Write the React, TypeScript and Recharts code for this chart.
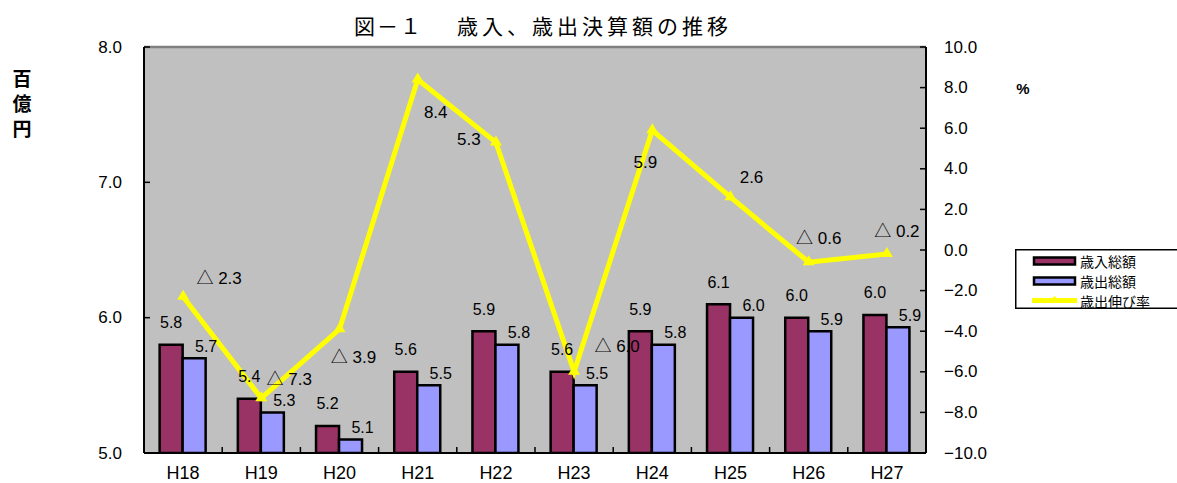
import React from 'react';
import {
  ComposedChart,
  Bar,
  Line,
  XAxis,
  YAxis,
  CartesianGrid,
  ReferenceLine,
  Legend,
} from 'recharts';

// 年度
const categories = ['H18', 'H19', 'H20', 'H21', 'H22', 'H23', 'H24', 'H25', 'H26', 'H27'];
// 歳入総額（百億円）
const revenue = [5.8, 5.4, 5.2, 5.6, 5.9, 5.6, 5.9, 6.1, 6.0, 6.02];
// 歳出総額（百億円）
const expenditure = [5.7, 5.3, 5.1, 5.5, 5.8, 5.5, 5.8, 6.0, 5.9, 5.93];
// 歳出伸び率（％）
const expenditureGrowth = [-2.3, -7.3, -3.9, 8.4, 5.3, -6.0, 5.9, 2.6, -0.6, -0.2];

const leftTicks = [5, 6, 7, 8];
const rightTicks = [-10, -8, -6, -4, -2, 0, 2, 4, 6, 8, 10];

// label placement for the growth-rate line, relative to each point
const rateLabelOffsets: [number, number][] = [
  [36, -18], [28, -19], [14, 28], [18, 33], [-27, -3],
  [43, -25], [-7, 32], [21, -20], [10, -24], [10, -23],
];

const data = categories.map((name, i) => ({
  name,
  revenue: revenue[i],
  expenditure: expenditure[i],
  growth: expenditureGrowth[i],
}));

const WIDTH = 1177;
const HEIGHT = 483;
const LEFT_AXIS_W = 144;
const RIGHT_AXIS_W = 251;
const PLOT_W = WIDTH - LEFT_AXIS_W - RIGHT_AXIS_W;
const BAND = PLOT_W / categories.length;

const NUM_FONT = "'Liberation Sans', Arial, 'Noto Sans CJK JP', sans-serif";
const JP_FONT = "'Noto Sans CJK JP', sans-serif";

const REVENUE_COLOR = '#993366';
const EXPENDITURE_COLOR = '#9999FF';
const LINE_COLOR = '#FFFF00';

const fmt1 = (v: number) => v.toFixed(1);
const fmtRate = (v: number) => (v < 0 ? `△ ${Math.abs(v).toFixed(1)}` : v.toFixed(1));
const fmtAxis = (v: number) => (v < 0 ? `−${Math.abs(v).toFixed(1)}` : v.toFixed(1));

const LEFT_MARGIN = 22;
const RIGHT_MARGIN = 18;

const LeftTick = (props: any) => {
  const { x, y, payload } = props;
  const ax = x + LEFT_MARGIN;
  return (
    <g>
      <line x1={ax} x2={ax + 6} y1={y} y2={y} stroke="#000" strokeWidth={1.5} />
      <text x={x} y={y} textAnchor="end" dominantBaseline="central" fontSize={17} fontFamily={NUM_FONT} fill="#000">
        {fmtAxis(payload.value)}
      </text>
    </g>
  );
};

const RightTick = (props: any) => {
  const { x, y, payload } = props;
  const ax = x - RIGHT_MARGIN;
  return (
    <g>
      <line x1={ax} x2={ax - 6} y1={y} y2={y} stroke="#000" strokeWidth={1.5} />
      <text x={x} y={y} textAnchor="start" dominantBaseline="central" fontSize={17} fontFamily={NUM_FONT} fill="#000">
        {fmtAxis(payload.value)}
      </text>
    </g>
  );
};

const XTick = (props: any) => {
  const { x, y, payload, index } = props;
  const bx = x + BAND / 2;
  return (
    <g>
      {index < categories.length - 1 && (
        <line x1={bx} x2={bx} y1={y} y2={y - 6} stroke="#000" strokeWidth={1.5} />
      )}
      <text x={x} y={y + 26} textAnchor="middle" fontSize={18} fontFamily={NUM_FONT} fill="#000">
        {payload.value}
      </text>
    </g>
  );
};

const RevenueLabel = (props: any) => {
  const { x, y, width, value } = props;
  return (
    <text x={x + width / 2} y={y - 22} textAnchor="middle" dominantBaseline="central" fontSize={16} fontFamily={NUM_FONT} fill="#000">
      {fmt1(value)}
    </text>
  );
};

const ExpenditureLabel = (props: any) => {
  const { x, y, width, value } = props;
  return (
    <text x={x + width / 2 + 12} y={y - 12} textAnchor="middle" dominantBaseline="central" fontSize={16} fontFamily={NUM_FONT} fill="#000">
      {fmt1(value)}
    </text>
  );
};

const RateLabel = (props: any) => {
  const { x, y, value, index } = props;
  const [dx, dy] = rateLabelOffsets[index] || [0, -15];
  return (
    <text x={x + dx} y={y + dy} textAnchor="middle" dominantBaseline="central" fontSize={17} fontFamily={NUM_FONT} fill="#000">
      {fmtRate(value)}
    </text>
  );
};

const TriangleDot = (props: any) => {
  const { cx, cy } = props;
  if (cx == null || cy == null) return null;
  return (
    <path d={`M${cx},${cy - 7} L${cx + 6},${cy + 3} L${cx - 6},${cy + 3} Z`} fill={LINE_COLOR} stroke="none" />
  );
};

const LegendBox = () => {
  const rows = [
    { label: '歳入総額', kind: 'bar', color: REVENUE_COLOR, y: 12 },
    { label: '歳出総額', kind: 'bar', color: EXPENDITURE_COLOR, y: 32 },
    { label: '歳出伸び率', kind: 'line', color: LINE_COLOR, y: 51.5 },
  ];
  return (
    <svg width={170} height={60} style={{ display: 'block' }}>
      <rect x={0.75} y={0.75} width={180} height={58.5} fill="#fff" stroke="#000" strokeWidth={1.5} />
      {rows.map((r) => (
        <g key={r.label}>
          {r.kind === 'bar' ? (
            <rect x={19} y={r.y - 3.5} width={41} height={7} fill={r.color} stroke="#000" strokeWidth={2.5} />
          ) : (
            <g>
              <line x1={17} x2={62} y1={r.y} y2={r.y} stroke={r.color} strokeWidth={5} />
              <path d={`M39.5,${r.y - 5} L44,${r.y + 2} L35,${r.y + 2} Z`} fill={r.color} />
            </g>
          )}
          <text x={65} y={r.y} dominantBaseline="central" fontSize={14} fontFamily={JP_FONT} fill="#000">
            {r.label}
          </text>
        </g>
      ))}
    </svg>
  );
};

export default function App() {
  return (
    <div style={{ width: WIDTH, height: HEIGHT, overflow: 'hidden', position: 'relative', background: '#fff' }}>
      <style>{'body{margin:0;}'}</style>
      <ComposedChart
        width={WIDTH}
        height={HEIGHT}
        data={data}
        margin={{ top: 47, right: 0, bottom: 0, left: 0 }}
        barCategoryGap="20%"
        barGap={0}
      >
        <CartesianGrid yAxisId="left" horizontal={false} vertical={false} fill="#C0C0C0" fillOpacity={1} />
        <XAxis
          dataKey="name"
          height={30}
          interval={0}
          tickSize={0}
          tickMargin={0}
          tickLine={false}
          axisLine={{ stroke: '#000', strokeWidth: 2 }}
          tick={(p: any) => <XTick {...p} />}
        />
        <YAxis
          yAxisId="left"
          orientation="left"
          width={LEFT_AXIS_W}
          domain={[5, 8]}
          ticks={leftTicks}
          allowDataOverflow
          tickSize={0}
          tickMargin={LEFT_MARGIN}
          tickLine={false}
          axisLine={{ stroke: '#000', strokeWidth: 2 }}
          tick={(p: any) => <LeftTick {...p} />}
        />
        <YAxis
          yAxisId="right"
          orientation="right"
          width={RIGHT_AXIS_W}
          domain={[-10, 10]}
          ticks={rightTicks}
          allowDataOverflow
          tickSize={0}
          tickMargin={RIGHT_MARGIN}
          tickLine={false}
          axisLine={{ stroke: '#000', strokeWidth: 2 }}
          tick={(p: any) => <RightTick {...p} />}
        />
        <ReferenceLine yAxisId="left" y={8} stroke="#808080" strokeWidth={2.5} />
        <Bar
          yAxisId="left"
          dataKey="revenue"
          name="歳入総額"
          fill={REVENUE_COLOR}
          stroke="#000"
          strokeWidth={2.5}
          isAnimationActive={false}
          label={(p: any) => <RevenueLabel {...p} />}
        />
        <Bar
          yAxisId="left"
          dataKey="expenditure"
          name="歳出総額"
          fill={EXPENDITURE_COLOR}
          stroke="#000"
          strokeWidth={2.5}
          isAnimationActive={false}
          label={(p: any) => <ExpenditureLabel {...p} />}
        />
        <Line
          yAxisId="right"
          dataKey="growth"
          name="歳出伸び率"
          type="linear"
          stroke={LINE_COLOR}
          strokeWidth={5}
          dot={(p: any) => <TriangleDot key={`dot-${p.index}`} {...p} />}
          activeDot={false}
          isAnimationActive={false}
          label={(p: any) => <RateLabel {...p} />}
        />
        <Legend
          layout="vertical"
          align="center"
          verticalAlign="middle"
          content={() => <LegendBox />}
          wrapperStyle={{ left: 1015, top: 249, width: 170, height: 60 }}
        />
        {/* chart title */}
        <text x={354} y={25} dominantBaseline="central" fontSize={21} letterSpacing={2} fontFamily={JP_FONT} fill="#000">
          図－１
        </text>
        <text x={457} y={25} dominantBaseline="central" fontSize={21} letterSpacing={4} fontFamily={JP_FONT} fill="#000">
          歳入、歳出決算額の推移
        </text>
        {/* left axis unit, set vertically */}
        <text
          x={22}
          y={69}
          style={{ writingMode: 'vertical-rl' }}
          fontSize={19}
          letterSpacing={6}
          fontWeight="bold"
          fontFamily={JP_FONT}
          fill="#000"
        >
          百億円
        </text>
        {/* right axis unit */}
        <text x={1023} y={88} textAnchor="middle" dominantBaseline="central" fontSize={15} fontWeight="bold" fontFamily={NUM_FONT} fill="#000">
          %
        </text>
      </ComposedChart>
    </div>
  );
}
